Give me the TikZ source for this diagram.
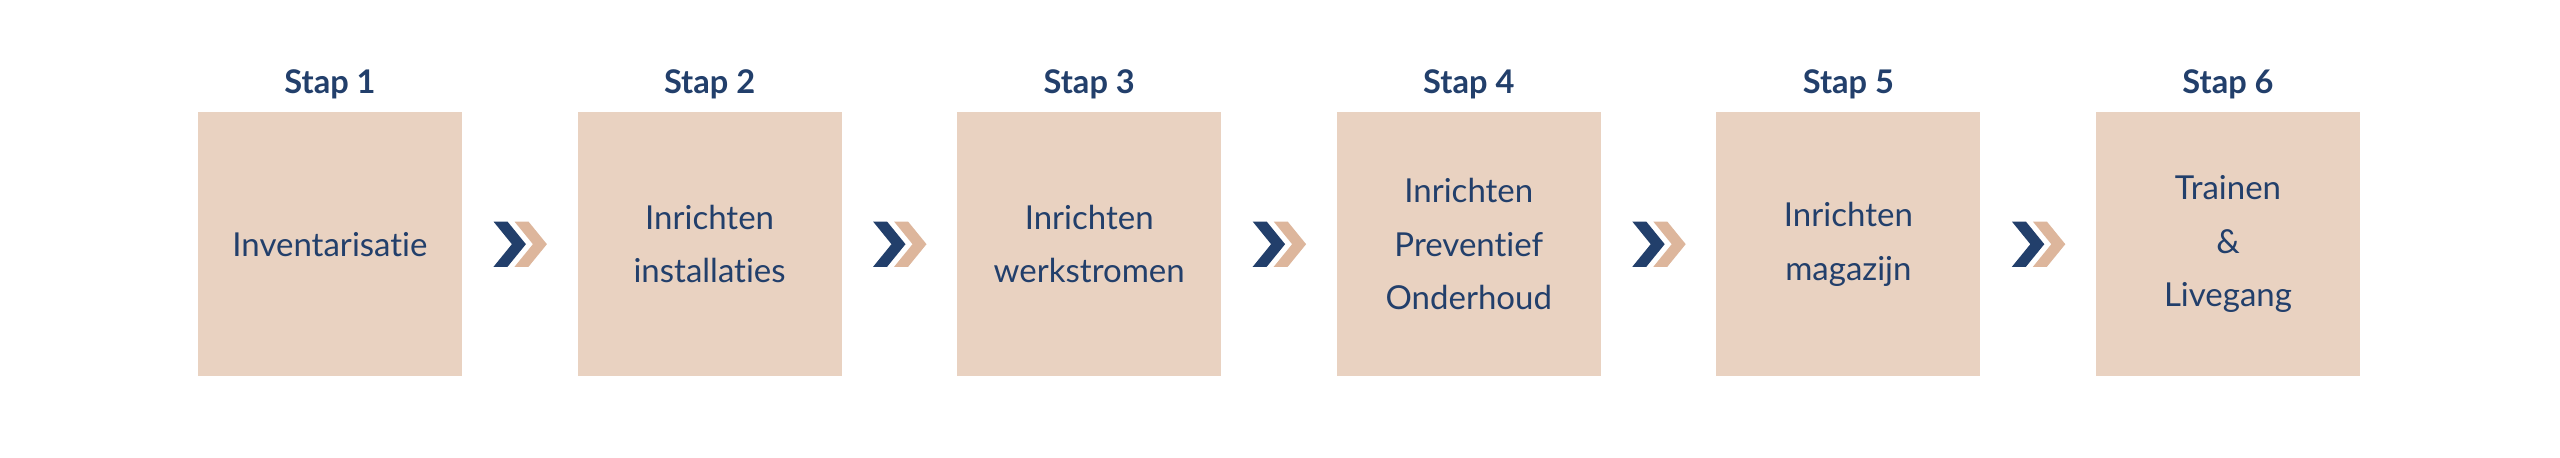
\documentclass[tikz,border=0pt]{standalone}
\usepackage{fontspec}
\setmainfont[Ligatures=NoCommon]{Lato}
\usetikzlibrary{positioning,calc}
\definecolor{boxfill}{HTML}{E9D2C1}
\definecolor{navy}{HTML}{223F6B}
\definecolor{sand}{HTML}{DDB69C}
\tikzstyle{stapbox}=[fill=boxfill, minimum width=132pt, minimum height=132pt, inner sep=0pt, outer sep=0pt, align=center, text=navy, font=\fontsize{16.5}{26.7}\selectfont]
\tikzstyle{titel}=[text=navy, font=\fontsize{16.3}{20}\selectfont\bfseries, inner sep=0pt, outer sep=0pt]
\tikzstyle{chevdark}=[fill=navy]
\tikzstyle{chevlight}=[fill=sand]
\newcommand{\stapchev}[1]{%
  \fill[chevdark, shift={(#1)}] (-13.15,11.3) -- (-6.15,11.3) -- (3.05,0) -- (-6.15,-11.3) -- (-13.15,-11.3) -- (-3.95,0) -- cycle;
  \fill[chevlight, shift={(#1)}] (-2.65,11.3) -- (4.35,11.3) -- (13.55,0) -- (4.35,-11.3) -- (-2.65,-11.3) -- (6.55,0) -- cycle;
}

\begin{document}
\begin{tikzpicture}[x=1pt, y=1pt]
\useasboundingbox (0,0) rectangle (1280,229);

\node (s1) [stapbox] at (165,106.9) {Inventarisatie};
\node (s2) [stapbox, right=57.8pt of s1] {Inrichten\\installaties};
\node (s3) [stapbox, right=57.8pt of s2] {Inrichten\\werkstromen};
\node (s4) [stapbox, right=57.8pt of s3] {Inrichten\\Preventief\\Onderhoud};
\node (s5) [stapbox, right=57.8pt of s4] {Inrichten\\magazijn};
\node (s6) [stapbox, right=57.8pt of s5] {Trainen\\\&\\Livegang};

\node (t1) [titel, above=9.5pt of s1, anchor=base] {Stap 1};
\node (t2) [titel, above=9.5pt of s2, anchor=base] {Stap 2};
\node (t3) [titel, above=9.5pt of s3, anchor=base] {Stap 3};
\node (t4) [titel, above=9.5pt of s4, anchor=base] {Stap 4};
\node (t5) [titel, above=9.5pt of s5, anchor=base] {Stap 5};
\node (t6) [titel, above=9.5pt of s6, anchor=base] {Stap 6};

% pijlen tussen de stappen
\coordinate (c1) at ($(s1.east)!0.5!(s2.west)$);
\coordinate (c2) at ($(s2.east)!0.5!(s3.west)$);
\coordinate (c3) at ($(s3.east)!0.5!(s4.west)$);
\coordinate (c4) at ($(s4.east)!0.5!(s5.west)$);
\coordinate (c5) at ($(s5.east)!0.5!(s6.west)$);

\stapchev{c1}
\stapchev{c2}
\stapchev{c3}
\stapchev{c4}
\stapchev{c5}

\end{tikzpicture}
\end{document}
